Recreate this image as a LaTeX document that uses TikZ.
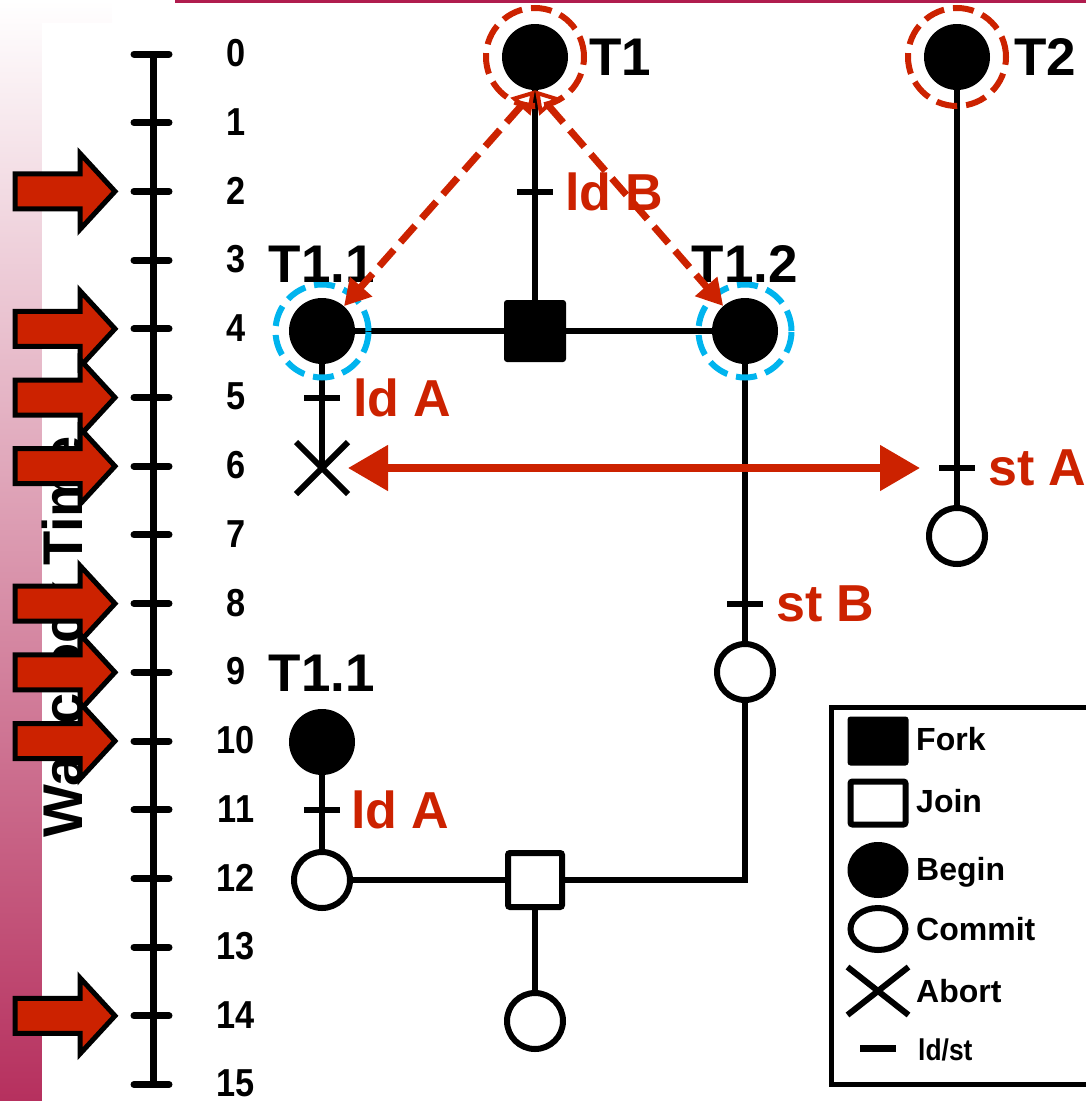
\documentclass[tikz,border=0pt]{standalone}
\usepackage{fontspec}
\setmainfont{Liberation Sans}
\newfontfamily\narrowfont{Liberation Sans}[FakeStretch=0.88]
\usetikzlibrary{positioning,arrows.meta,shapes.geometric,shapes.misc}

\definecolor{lblred}{RGB}{204,34,0}
\definecolor{ringblue}{RGB}{0,180,238}
\definecolor{crimson}{RGB}{182,48,94}
\definecolor{topline}{RGB}{176,28,78}

\begin{document}
\begin{tikzpicture}[x=1pt, y=-1pt,
  every node/.style={inner sep=0pt},
  edge/.style={line width=5.5pt, draw=black},
  ldst/.style={line width=6pt, draw=black},
  beginst/.style={circle, fill=black, minimum size=66pt},
  commitst/.style={circle, draw=black, line width=6pt, fill=white, minimum size=56pt},
  forkst/.style={rectangle, fill=black, rounded corners=3pt, minimum size=62pt},
  joinst/.style={rectangle, draw=black, line width=6pt, fill=white, rounded corners=2pt, minimum size=54pt},
  abortst/.style={cross out, draw=black, line width=6pt, minimum size=46pt},
  redring/.style={circle, draw=lblred, line width=6pt, dash pattern=on 21pt off 9pt, minimum size=98pt},
  bluering/.style={circle, draw=ringblue, line width=6pt, dash pattern=on 21pt off 9pt, minimum size=93pt},
  tname/.style={font=\fontsize{53}{60}\selectfont\bfseries},
  opname/.style={font=\fontsize{52}{60}\selectfont\bfseries, text=lblred},
  timenum/.style={font=\narrowfont\bfseries\fontsize{39}{44}\selectfont},
  keytext/.style={font=\fontsize{32}{36}\selectfont\bfseries, anchor=base west},
  blockarr/.style={fill=lblred, draw=black, line width=5pt, line join=miter},
  dasharr/.style={draw=lblred, line width=7pt, dash pattern=on 22pt off 10pt,
    {Triangle[open, line width=4pt, length=22pt, width=26pt]}-{Triangle[length=26pt, width=28pt]}},
  redarr/.style={draw=lblred, line width=8pt,
    {Triangle[length=40pt, width=44pt]}-{Triangle[length=40pt, width=44pt]}}
]
\useasboundingbox (0,0) rectangle (1086,1101);

% Background strip and title line
\shade[top color=white, bottom color=crimson] (0,0) rectangle (112,1101);
\fill[white] (42,23) rectangle (115,1101);
\draw[topline, line width=3pt] (175,1.5) -- (1086,1.5);
\node[rotate=90, anchor=base, font=\fontsize{56}{60}\selectfont\bfseries] (wall) at (82,637) {Wallclock Time};

% Time axis
\draw[line width=7pt] (153,54) -- (153,1085);
\foreach \t in {0,...,15} {
  \draw[line width=7pt, line cap=round] (134,54+68.7*\t) -- (169,54+68.7*\t);
  \node[timenum] (n\t) at (236,53+68.7*\t) {\t};
}
\foreach \t in {2,4,5,6,8,9,10,14} {
  \pgfmathsetmacro\yy{54+68.7*\t}
  \draw[blockarr, shift={(0,\yy)}] (15,-17.5) -- (80,-17.5) -- (80,-38) -- (115,0)
    -- (80,38) -- (80,17.5) -- (15,17.5) -- cycle;
}

% Transaction events
\node[beginst] (t1) at (535,57) {};
\node[beginst] (t2) at (957,57) {};
\node[beginst] (t11) at (322,331) {};
\node[forkst] (fork) at (535,331) {};
\node[beginst] (t12) at (745,331) {};
\node[abortst] (abort) at (322,468) {};
\node[commitst] (c7) at (957,536) {};
\node[commitst] (c9) at (745,672) {};
\node[beginst] (t11b) at (322,742) {};
\node[commitst] (c12) at (322,880) {};
\node[joinst] (join) at (535,880) {};
\node[commitst] (c14) at (535,1021) {};

% Loads and stores
\coordinate (ldB) at (535,192);
\coordinate (ldA) at (322,398);
\coordinate (stA) at (957,468);
\coordinate (stB) at (745,604);
\coordinate (ldA2) at (322,810);

% Thread lines
\draw[edge] (t1) -- (fork);
\draw[edge] (t11) -- (fork);
\draw[edge] (fork) -- (t12);
\draw[edge] (t11) -- (abort.center);
\draw[edge] (t12) -- (c9);
\draw[edge] (t2) -- (c7);
\draw[edge] (t11b) -- (c12);
\draw[edge] (c12) -- (join);
\draw[edge] (join) -| (c9);
\draw[edge] (join) -- (c14);
\foreach \p in {ldB,ldA,stA,stB,ldA2}
  \draw[ldst] ([xshift=-18pt]\p) -- ([xshift=18pt]\p);

% Rings
\node[redring] (r1) at (t1) {};
\node[redring] (r2) at (t2) {};
\node[bluering] (r11) at (t11) {};
\node[bluering] (r12) at (t12) {};

% Names and operations
\node[tname, right=21pt of t1] (t1name) {T1};
\node[tname, right=24pt of t2] (t2name) {T2};
\node[tname, above=15pt of t11] (t11name) {T1.1};
\node[tname, above=15pt of t12] (t12name) {T1.2};
\node[tname, above=17pt of t11b] (t11bname) {T1.1};
\node[opname, right=30pt of ldB] (ldBname) {ld B};
\node[opname, right=31pt of ldA] (ldAname) {ld A};
\node[opname, right=31pt of stA] (stAname) {st A};
\node[opname, right=31pt of stB] (stBname) {st B};
\node[opname, right=29pt of ldA2] (ldA2name) {ld A};

% Conflict arrows
\draw[dasharr] (t1.south) -- (t11);
\draw[dasharr] (t1.south) -- (t12);
\draw[redarr, shorten >=37pt] (abort) -- (stA);

% Legend
\draw[line width=5pt] (831,707) rectangle (1090,1084);
\node[forkst, minimum width=61pt, minimum height=49pt] (kfork) at (878,741) {};
\node[joinst, minimum width=55pt, minimum height=43pt] (kjoin) at (878,803) {};
\node[ellipse, fill=black, minimum width=61pt, minimum height=56pt] (kbegin) at (878,870) {};
\node[ellipse, draw=black, line width=6pt, minimum width=55pt, minimum height=42pt] (kcommit) at (878,929) {};
\node[abortst, minimum width=55pt, minimum height=42pt] (kabort) at (878,991) {};
\coordinate (kldst) at (878,1048);
\draw[ldst, line width=7pt] ([xshift=-18pt]kldst) -- ([xshift=18pt]kldst);
\node[keytext] (tfork) at (916,750) {Fork};
\node[keytext] (tjoin) at (916,812) {Join};
\node[keytext] (tbegin) at (916,880) {Begin};
\node[keytext] (tcommit) at (916,940) {Commit};
\node[keytext] (tabort) at (916,1002) {Abort};
\node[keytext, font=\narrowfont\bfseries\fontsize{30}{34}\selectfont] (tldst) at (918,1060) {ld/st};
\end{tikzpicture}
\end{document}
